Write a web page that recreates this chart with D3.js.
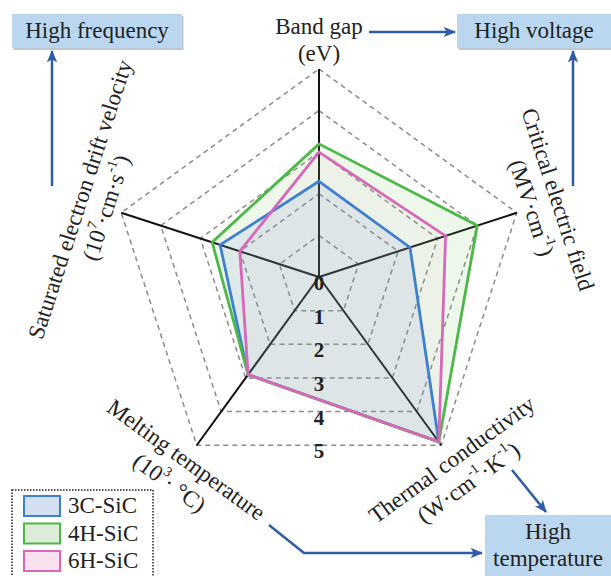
<!DOCTYPE html>
<html>
<head>
<meta charset="utf-8">
<script src="https://cdn.jsdelivr.net/npm/d3@7"></script>
<style>
  html, body { margin: 0; padding: 0; background: #fff; }
  text { font-family: "Liberation Serif", "Times New Roman", serif; fill: #222; }
</style>
</head>
<body>
<div class="chart"></div>
<script>
// axes, clockwise from the top
const axisNames = ["Band gap", "Critical electric field", "Thermal conductivity", "Melting temperature", "Saturated electron drift velocity"];
const axisUnits = [
  [["(eV)"]],
  [["(MV·cm"], ["-1", "sup"], [")"]],
  [["(W·cm"], ["-1", "sup"], ["·K"], ["-1", "sup"], [")"]],
  [["(10"], ["3", "sup"], ["· °C)"]],
  [["(10"], ["7", "sup"], ["·cm·s"], ["-1", "sup"], [")"]]
];
const levels = [0, 1, 2, 3, 4, 5];
const seriesNames = ["3C-SiC", "4H-SiC", "6H-SiC"];
const sic3C = [2.3, 2.3, 4.9, 2.9, 2.5];
const sic4H = [3.2, 4.0, 4.9, 2.9, 2.7];
const sic6H = [3.0, 3.2, 4.9, 2.9, 2.0];
const seriesColors = ["#3f7fd0", "#4cb848", "#d867b8"];
const seriesFills = ["rgba(90,130,215,0.11)", "rgba(110,195,90,0.12)", "rgba(240,150,205,0.06)"];
const legendFills = ["#d4e0f1", "#dcecd8", "#f8e2ef"];

const W = 611, H = 576;
const cx = 319, cy = 277;
const svg = d3.select("div.chart").append("svg")
  .attr("width", W).attr("height", H);

const defs = svg.append("defs");
defs.append("marker")
  .attr("id", "arrow")
  .attr("viewBox", "0 -5 12 10")
  .attr("refX", 11).attr("refY", 0)
  .attr("markerWidth", 5).attr("markerHeight", 5)
  .attr("markerUnits", "strokeWidth")
  .attr("orient", "auto")
  .append("path")
  .attr("d", "M0,-5L12,0L0,5L3,0Z")
  .style("fill", "#2f5ca6");

const r = d3.scaleLinear().domain([0, 5]).range([0, 208]);
const angle = d3.scaleLinear().domain([0, axisNames.length]).range([0, 2 * Math.PI]);
const pt = (i, v) => [cx + r(v) * Math.sin(angle(i)), cy - r(v) * Math.cos(angle(i))];

const g = svg.append("g");

// dashed rings
const ringLine = d3.line().curve(d3.curveLinearClosed);
g.selectAll("path.ring")
  .data(levels.filter(d => d > 0))
  .enter().append("path")
  .attr("class", "ring")
  .attr("d", lv => ringLine(axisNames.map((_, i) => pt(i, lv))))
  .style("fill", "none")
  .style("stroke", "#8c8c8c")
  .style("stroke-width", 1.5)
  .style("stroke-dasharray", "5,4");

// axes
g.selectAll("line.axis")
  .data(axisNames)
  .enter().append("line")
  .attr("class", "axis")
  .attr("x1", cx).attr("y1", cy)
  .attr("x2", (d, i) => pt(i, 5)[0])
  .attr("y2", (d, i) => pt(i, 5)[1])
  .style("stroke", "#111")
  .style("stroke-width", 2);

// series polygons
const seriesData = [sic3C, sic4H, sic6H];
const fillOrder = [1, 2, 0];
fillOrder.forEach(k => {
  g.append("path")
    .attr("d", ringLine(seriesData[k].map((v, i) => pt(i, v))))
    .style("fill", seriesFills[k])
    .style("stroke", "none");
});
[0, 1, 2].forEach(k => {
  g.append("path")
    .attr("d", ringLine(seriesData[k].map((v, i) => pt(i, v))))
    .style("fill", "none")
    .style("stroke", seriesColors[k])
    .style("stroke-width", 2.8)
    .style("stroke-linejoin", "miter");
});

// level numbers
g.selectAll("text.level")
  .data(levels)
  .enter().append("text")
  .attr("class", "level")
  .attr("x", cx)
  .attr("y", d => cy + r(d) * Math.cos(Math.PI / 5) + 6)
  .attr("text-anchor", "middle")
  .attr("dominant-baseline", "central")
  .style("font-size", "21px")
  .style("font-weight", "bold")
  .text(d => d);

// axis labels
function addRuns(sel, runs) {
  runs.forEach(run => {
    if (run[1] === "sup") {
      sel.append("tspan").attr("dy", -8).style("font-size", "14px").text(run[0]);
      sel.append("tspan").attr("dy", 8).text("\u200B");
    } else {
      sel.append("tspan").text(run[0]);
    }
  });
}
const rotations = [0, 72, -36, 36, -72];
axisNames.forEach((name, i) => {
  const a = angle(i);
  const top = Math.cos(a) > 0;
  const nameDist = top ? 251 : 226;
  const unitDist = top ? 224 : 254;
  const p1 = [cx + nameDist * Math.sin(a), cy - nameDist * Math.cos(a)];
  const p2 = [cx + unitDist * Math.sin(a), cy - unitDist * Math.cos(a)];
  g.append("text")
    .attr("transform", `translate(${p1[0]},${p1[1]}) rotate(${rotations[i]})`)
    .attr("text-anchor", "middle")
    .attr("dominant-baseline", "central")
    .style("font-size", "23px")
    .text(name);
  const t = g.append("text")
    .attr("transform", `translate(${p2[0]},${p2[1]}) rotate(${rotations[i]})`)
    .attr("text-anchor", "middle")
    .attr("dominant-baseline", "central")
    .style("font-size", "23px");
  addRuns(t, axisUnits[i]);
});

// property boxes
const boxes = [
  { x: 12, y: 14, w: 170, h: 34, lines: ["High frequency"] },
  { x: 457, y: 14, w: 156, h: 34, lines: ["High voltage"] },
  { x: 485, y: 515, w: 130, h: 66, lines: ["High", "temperature"] }
];
boxes.forEach(b => {
  g.append("rect")
    .attr("x", b.x + 1.5).attr("y", b.y + 2).attr("width", b.w).attr("height", b.h)
    .style("fill", "#8ea3b8").style("opacity", 0.6);
  g.append("rect")
    .attr("x", b.x).attr("y", b.y).attr("width", b.w).attr("height", b.h)
    .style("fill", "#bad7ef");
  b.lines.forEach((ln, j) => {
    g.append("text")
      .attr("x", b.x + b.w / 2 - (b.x + b.w > W ? (b.x + b.w - W) / 2 : 0))
      .attr("y", b.y + 24 + j * 27)
      .attr("text-anchor", "middle")
      .style("font-size", "23px")
      .text(ln);
  });
});

// arrows
const arrows = [
  [[52, 186], [52, 51]],
  [[369, 32], [455, 32]],
  [[573, 186], [573, 51]],
  [[269, 525], [304, 553], [482, 553]],
  [[512, 470], [546, 512]]
];
g.selectAll("path.arrow")
  .data(arrows)
  .enter().append("path")
  .attr("class", "arrow")
  .attr("d", d => d3.line()(d))
  .style("fill", "none")
  .style("stroke", "#2f5ca6")
  .style("stroke-width", 2.5)
  .style("marker-end", "url(#arrow)");

// legend
const legend = g.append("g");
legend.append("rect")
  .attr("x", 12).attr("y", 490).attr("width", 141).attr("height", 95)
  .style("fill", "none")
  .style("stroke", "#222")
  .style("stroke-width", 1.5)
  .style("stroke-dasharray", "1.5,1.5");
seriesNames.forEach((name, k) => {
  const y = 496 + k * 27.5;
  legend.append("rect")
    .attr("x", 24).attr("y", y).attr("width", 36).attr("height", 20)
    .style("fill", legendFills[k])
    .style("stroke", seriesColors[k])
    .style("stroke-width", 2);
  legend.append("text")
    .attr("x", 68).attr("y", y + 17)
    .style("font-size", "23px")
    .text(name);
});
</script>
</body>
</html>
